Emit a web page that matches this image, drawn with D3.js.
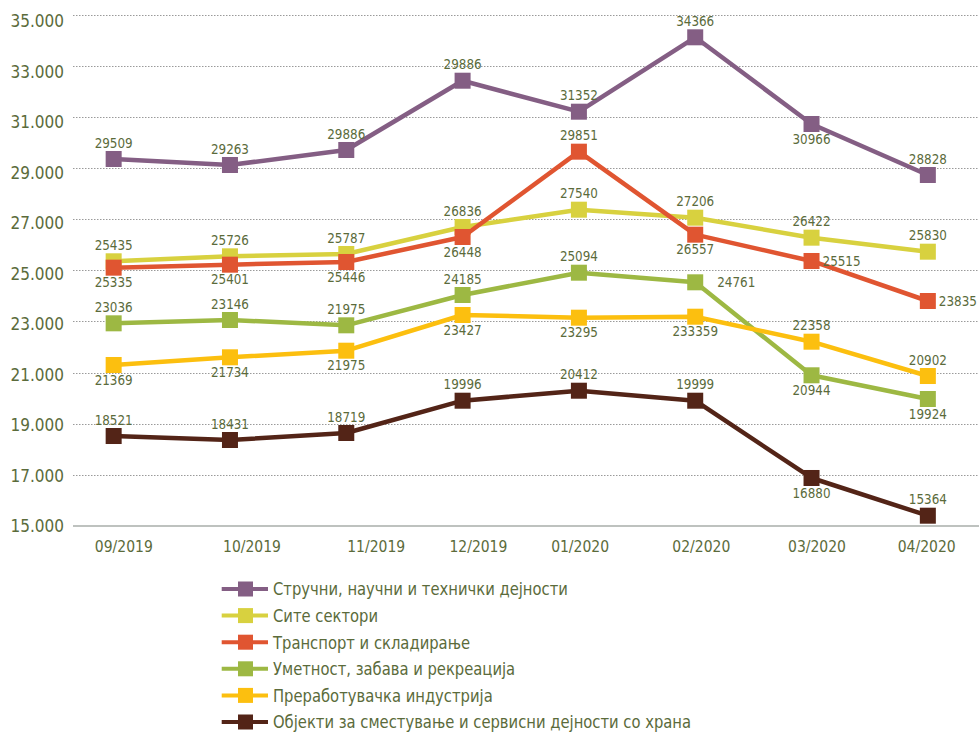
<!DOCTYPE html>
<html><head><meta charset="utf-8">
<script src="https://cdn.jsdelivr.net/npm/d3@7"></script>
<style>
html,body{margin:0;padding:0;background:#fff;}
svg{display:block;}
text{font-family:"DejaVu Sans Condensed","DejaVu Sans",sans-serif;fill:#5b6b3b;}
</style></head>
<body>
<svg id="chart" width="979" height="734"></svg>
<script>
// ---------- DATA ----------
const categories = ["09/2019","10/2019","11/2019","12/2019","01/2020","02/2020","03/2020","04/2020"];
const yTickValues = [15000,17000,19000,21000,23000,25000,27000,29000,31000,33000,35000];

const seriesNames = [
  "Стручни, научни и технички дејности",
  "Сите сектори",
  "Транспорт и складирање",
  "Уметност, забава и рекреација",
  "Преработувачка индустрија",
  "Објекти за сместување и сервисни дејности со храна"
];

const strucni      = [29356, 29121, 29708, 32418, 31206, 34116, 30725, 28730];
const strucniLbl   = ["29509","29263","29886","29886","31352","34366","30966","28828"];
const site         = [25354, 25549, 25640, 26696, 27373, 27060, 26278, 25730];
const siteLbl      = ["25435","25726","25787","26836","27540","27206","26422","25830"];
const transport    = [25105, 25222, 25327, 26305, 29642, 26396, 25366, 23801];
const transportLbl = ["25335","25401","25446","26448","29851","26557","25515","23835"];
const umetnost     = [22928, 23058, 22850, 24036, 24908, 24532, 20895, 19968];
const umetnostLbl  = ["23036","23146","21975","24185","25094","24761","20944","19924"];
const prerab       = [21298, 21599, 21857, 23254, 23148, 23187, 22209, 20867];
const prerabLbl    = ["21369","21734","21975","23427","23295","233359","22358","20902"];
const objekti      = [18520, 18364, 18638, 19901, 20292, 19901, 16878, 15403];
const objektiLbl   = ["18521","18431","18719","19996","20412","19999","16880","15364"];

// ---------- LAYOUT / STYLE ----------
const colors = ["#845e84","#d8d13f","#e05531","#9db843","#fcbf0f","#532417"];
// label placement: a = above, b = below, r = right, rr = far right
const placeStrucni   = ["a","a","a","a","a","a","b","a"];
const placeSite      = ["a","a","a","a","a","a","a","a"];
const placeTransport = ["b","b","b","b","a","b","r","r"];
const placeUmetnost  = ["a","a","a","a","a","rr","b","b"];
const placePrerab    = ["b","b","b","b","b","b","a","a"];
const placeObjekti   = ["a","a","a","a","a","a","b","a"];
const xTickNudge = [0, 13.5, 23, 10.5, -2.5, 4, 5, 0];

const series = [
  {name: seriesNames[0], values: strucni,   labels: strucniLbl,   place: placeStrucni},
  {name: seriesNames[1], values: site,      labels: siteLbl,      place: placeSite},
  {name: seriesNames[2], values: transport, labels: transportLbl, place: placeTransport},
  {name: seriesNames[3], values: umetnost,  labels: umetnostLbl,  place: placeUmetnost},
  {name: seriesNames[4], values: prerab,    labels: prerabLbl,    place: placePrerab},
  {name: seriesNames[5], values: objekti,   labels: objektiLbl,   place: placeObjekti}
];

const svg = d3.select("#chart");
const gridLeft = 73, gridRight = 979;

const x = d3.scalePoint().domain(categories).range([55.5, 986]).padding(0.5);
const xLbl = d3.scalePoint().domain(categories).range([123.8, 926.7]);
const y = d3.scaleLinear().domain([15000, 35000]).range([526, 14.7]);
const yLbl = d3.scaleLinear().domain([15000, 35000]).range([526, 21]);

const fmt = d3.formatLocale({decimal: ",", thousands: ".", grouping: [3], currency: ["", ""]}).format(",");

// gridlines
svg.append("g").selectAll("line").data(yTickValues.filter(v => v > 15000)).join("line")
  .attr("x1", gridLeft).attr("x2", gridRight)
  .attr("y1", d => Math.round(y(d)) + 0.5).attr("y2", d => Math.round(y(d)) + 0.5)
  .attr("stroke", "#9a9a9a").attr("stroke-width", 1).attr("stroke-dasharray", "1.5,1.5");

// baseline axis
svg.append("line").attr("x1", gridLeft).attr("x2", gridRight)
  .attr("y1", y(15000)).attr("y2", y(15000))
  .attr("stroke", "#a9aeaa").attr("stroke-width", 1.6);

// y tick labels
svg.append("g").selectAll("text").data(yTickValues).join("text")
  .attr("x", 64).attr("y", d => yLbl(d)).attr("dy", "0.36em")
  .attr("text-anchor", "end").attr("font-size", 17)
  .text(d => fmt(d));

// x tick labels
svg.append("g").selectAll("text").data(categories).join("text")
  .attr("x", (d, i) => xLbl(d) + xTickNudge[i]).attr("y", 546.7).attr("dy", "0.36em")
  .attr("text-anchor", "middle").attr("font-size", 15.5)
  .text(d => d);

// lines & markers
const line = d3.line().x((d, i) => x(categories[i])).y(d => y(d));
const ms = 16;
series.forEach((s, si) => {
  const g = svg.append("g");
  g.append("path").attr("d", line(s.values)).attr("fill", "none")
    .attr("stroke", colors[si]).attr("stroke-width", 4.5).attr("stroke-linejoin", "round");
  g.selectAll("rect").data(s.values).join("rect")
    .attr("x", (d, i) => x(categories[i]) - ms / 2)
    .attr("y", d => y(d) - ms / 2)
    .attr("width", ms).attr("height", ms).attr("fill", colors[si]);
});

// data labels
series.forEach((s, si) => {
  svg.append("g").selectAll("text").data(s.values).join("text")
    .attr("font-size", 13.3)
    .attr("x", (d, i) => {
      const p = s.place[i], cx = x(categories[i]);
      if (p === "r") return cx + 11;
      if (p === "rr") return cx + 22;
      return cx;
    })
    .attr("y", (d, i) => {
      const p = s.place[i], cy = y(d);
      if (p === "a") return cy - 16;
      if (p === "b") return cy + 15;
      return cy;
    })
    .attr("dy", "0.36em")
    .attr("text-anchor", (d, i) => (s.place[i] === "r" || s.place[i] === "rr") ? "start" : "middle")
    .text((d, i) => s.labels[i]);
});

// legend
const legend = svg.append("g");
series.forEach((s, si) => {
  const cy = 589 + si * 26.6;
  legend.append("line").attr("x1", 221.7).attr("x2", 268).attr("y1", cy).attr("y2", cy)
    .attr("stroke", colors[si]).attr("stroke-width", 4);
  legend.append("rect").attr("x", 238).attr("y", cy - 7.5).attr("width", 15).attr("height", 15)
    .attr("fill", colors[si]);
  legend.append("text")
    .attr("transform", `translate(273,${cy}) scale(0.913,1)`)
    .attr("dy", "0.36em")
    .attr("font-size", 18).text(s.name);
});
</script>
</body></html>
